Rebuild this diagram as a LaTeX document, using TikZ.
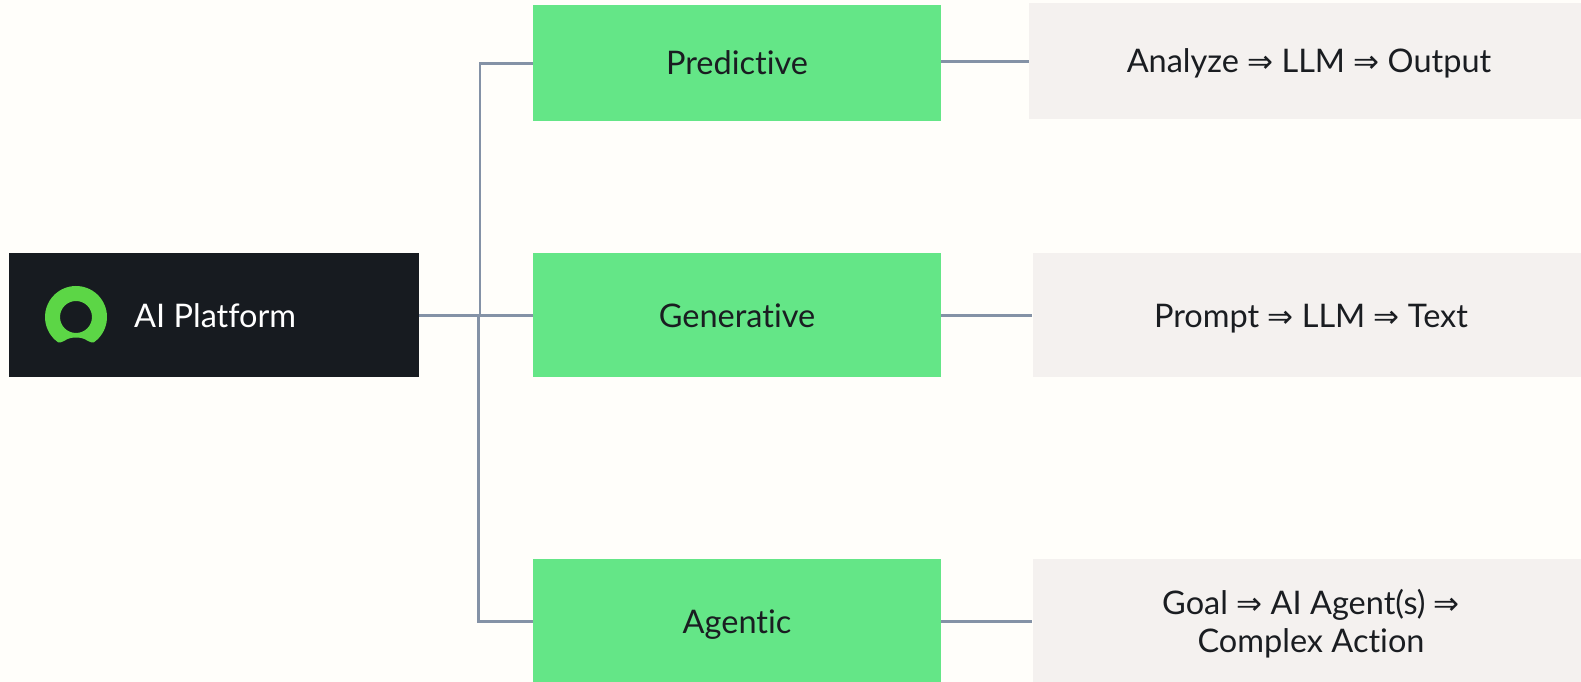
\documentclass[tikz,border=0pt]{standalone}
\usepackage{fontspec}
\setmainfont[Ligatures=NoCommon]{Lato}
\newfontfamily\symbolfont{DejaVu Sans}
\usepackage{xcolor}
\definecolor{pagebg}{HTML}{FFFEFA}
\definecolor{darkbox}{HTML}{171B20}
\definecolor{greenbox}{HTML}{64E687}
\definecolor{greybox}{HTML}{F4F1EF}
\definecolor{linkcol}{HTML}{8492A6}
\definecolor{logogreen}{HTML}{5CD646}
\definecolor{textcol}{HTML}{1A1D21}
\newcommand{\thento}{{\symbolfont\fontsize{31}{31}\selectfont ⇒}}
\tikzset{
    kind/.style={fill=greenbox, minimum width=408pt, inner sep=0pt, text=textcol, text height=25pt, text depth=0pt},
    flow/.style={fill=greybox, inner sep=0pt, text=textcol, align=center, text height=25pt, text depth=0pt},
    link/.style={draw=linkcol, line width=2.8pt}
}

\begin{document}
\begin{tikzpicture}[x=1pt, y=1pt, every node/.style={font=\fontsize{32.5}{38}\selectfont}]
    \useasboundingbox[fill=pagebg] (0,0) rectangle (1581,682);

    % Left box with its logo
    \node[fill=darkbox, minimum width=410pt, minimum height=124pt, inner sep=0pt] (platform) at (214,366.5) {};
    \fill[logogreen, even odd rule] (76,365) ++(-55:31) arc[start angle=-55, end angle=235, radius=31]
        .. controls (60,339) and (62,340) .. (65,341.5)
        .. controls (70,345.5) and (82,345.5) .. (87,341.5)
        .. controls (90,340) and (92,339) .. (93.8,339.6) -- cycle
        (76,365) circle (16);
    \node[anchor=west, text=white, inner sep=0pt, text height=25pt, text depth=0pt] (platformtext) at (134,366.5) {AI Platform};

    % Middle column
    \node[kind, minimum height=116pt, text height=22pt] (predictive) at (737,618.7) {Predictive};
    \node[kind, minimum height=124pt] (generative) at (737,366.5) {Generative};
    \node[kind, minimum height=124pt] (agentic) at (737,60.8) {Agentic};

    % Right column
    \node[flow, minimum width=560pt, minimum height=116pt, text height=22pt] (analyze) at (1309,620.6) {Analyze \thento{} LLM \thento{} Output};
    \node[flow, minimum width=557pt, minimum height=124pt] (prompt) at (1311,366.5) {Prompt \thento{} LLM \thento{} Text};
    \node[flow, minimum width=557pt, minimum height=124pt, text height=63pt] (goal) at (1311,60.8) {Goal \thento{} AI Agent(s) \thento{}\\Complex Action};

    % Trunk
    \coordinate (forkup) at (480,366.5);
    \coordinate (forkdown) at (478.7,366.5);
    \draw[link] (platform.east) -- (generative.west);
    \draw[link] (forkup) |- (predictive.west);
    \draw[link] (forkdown) |- (agentic.west);

    % Links to the right column
    \draw[link] (predictive.east |- analyze.west) -- (analyze.west);
    \draw[link] (generative.east) -- (prompt.west);
    \draw[link] (agentic.east) -- (goal.west);
\end{tikzpicture}
\end{document}
